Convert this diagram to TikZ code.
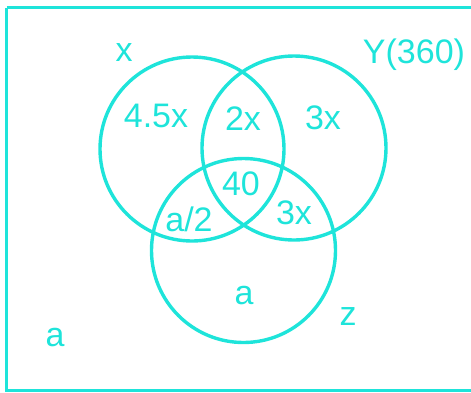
\documentclass[tikz,border=0pt]{standalone}
\usepackage{fontspec}
\setmainfont{Liberation Sans}
\definecolor{vc}{RGB}{30,228,218}
\begin{document}
\begin{tikzpicture}[x=1pt,y=-1pt,
  ring/.style={draw=vc,line width=3.4pt},
  lbl/.style={text=vc,font=\fontsize{34}{38}\selectfont,inner sep=0pt,anchor=center}]
\useasboundingbox (0,0) rectangle (471,392);
\begin{scope}
\clip (0,0) rectangle (471,392);
\draw[vc,line width=3.4pt] (6.5,7.5) -- (480,7.5);
\draw[vc,line width=3.4pt] (6.5,7.5) -- (6.5,390.5) -- (480,390.5);
\end{scope}
\node[ring,circle,minimum size=184pt,inner sep=0pt] (cx) at (192,149) {};
\node[ring,circle,minimum size=184pt,inner sep=0pt] (cy) at (294,148) {};
\node[ring,circle,minimum size=184pt,inner sep=0pt] (cz) at (243.5,250.5) {};
\node[lbl] (tx) at (124,52.5) {x};
\node[lbl] (ty) at (414,55) {Y(360)};
\node[lbl] (t45) at (156,116) {4.5x};
\node[lbl] (t2x) at (243,119) {2x};
\node[lbl] (t3a) at (323,118) {3x};
\node[lbl] (t40) at (241,184) {40};
\node[lbl] (ta2) at (189,219) {a/2};
\node[lbl] (t3b) at (294,213) {3x};
\node[lbl] (ta) at (244,295.5) {a};
\node[lbl] (tz) at (348,316.5) {z};
\node[lbl] (tout) at (55,337.5) {a};
\end{tikzpicture}
\end{document}
